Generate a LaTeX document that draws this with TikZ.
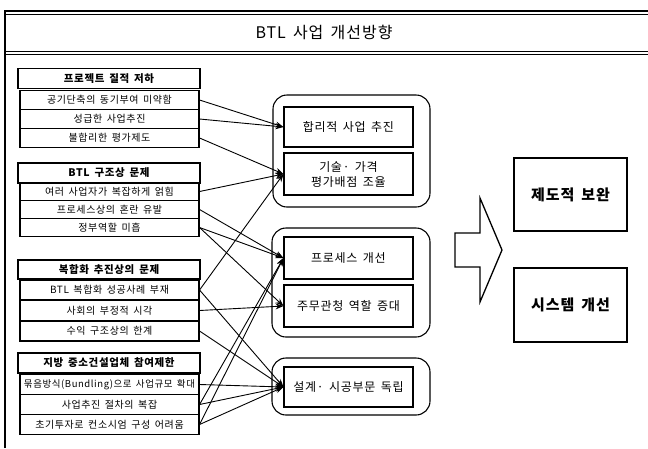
\documentclass[tikz,border=0pt]{standalone}
\usepackage{fontspec}
\setmainfont{Noto Sans CJK KR}[LetterSpace=6,WordSpace=1.6]
\usetikzlibrary{arrows.meta}
\begin{document}
\begin{tikzpicture}[x=1pt,y=-1pt,
 box/.style={draw, line width=1.1pt, inner sep=0pt, align=center},
 hdr/.style={box, minimum width=182pt, minimum height=20pt, font=\fontsize{10.5}{12}\selectfont\bfseries},
 itm/.style={box, minimum width=179pt, minimum height=19pt, font=\fontsize{10}{11}\selectfont},
 midbox/.style={box, minimum width=129pt, minimum height=41pt, font=\fontsize{12}{15}\selectfont},
 grp/.style={draw, line width=1.1pt, rounded corners=14pt, inner sep=0pt},
 res/.style={box, minimum width=113pt, minimum height=73pt, font=\fontsize{15}{17}\selectfont\bfseries},
 con/.style={line width=0.9pt, -{Stealth[length=8pt,width=6pt]}}
]
\useasboundingbox (0,0) rectangle (648,448);
% frame
\draw[line width=1.2pt] (5,448) -- (5,11) -- (648,11);
\draw[line width=0.6pt] (5,14) -- (648,14);
\draw[line width=1pt] (5,51) -- (648,51);
\draw[line width=0.6pt] (5,54) -- (648,54);
\node[font=\fontsize{16}{18}\selectfont] (title) at (324,32) {BTL 사업 개선방향};
% group 1
\node[hdr] (h1) at (109,78.5) {프로젝트 질적 저하};
\node[itm] (a1) at (109.5,100) {공기단축의 동기부여 미약함};
\node[itm] (a2) at (109.5,119) {성급한 사업추진};
\node[itm] (a3) at (109.5,138) {불합리한 평가제도};
% group 2
\node[hdr] (h2) at (109,173) {BTL 구조상 문제};
\node[itm, minimum height=18pt] (b1) at (109.5,191.5) {여러 사업자가 복잡하게 얽힘};
\node[itm, minimum height=18pt] (b2) at (109.5,209.5) {프로세스상의 혼란 유발};
\node[itm, minimum height=18pt] (b3) at (109.5,227.5) {정부역할 미흡};
% group 3
\node[hdr, minimum height=19pt] (h3) at (109,269.5) {복합화 추진상의 문제};
\node[itm, minimum height=20pt] (c1) at (109.5,290) {BTL 복합화 성공사례 부재};
\node[itm, minimum height=20pt] (c2) at (109.5,310.5) {사회의 부정적 시각};
\node[itm, minimum height=20pt] (c3) at (109.5,331) {수익 구조상의 한계};
% group 4
\node[hdr] (h4) at (109,363) {지방 중소건설업체 참여제한};
\node[itm, minimum height=20pt, font=\fontsize{9.5}{11}\selectfont] (d1) at (109.5,384.5) {묶음방식(Bundling)으로 사업규모 확대};
\node[itm, minimum height=20pt] (d2) at (109.5,404.5) {사업추진 절차의 복잡};
\node[itm, minimum height=20pt] (d3) at (109.5,424.5) {초기투자로 컨소시엄 구성 어려움};
% middle groups
\node[grp, minimum width=157pt, minimum height=112pt] (gA) at (351.5,151) {};
\node[grp, minimum width=158pt, minimum height=109pt] (gB) at (351,282.5) {};
\node[grp, minimum width=158pt, minimum height=57pt] (gC) at (351,386.5) {};
\node[midbox, minimum height=40pt] (m1) at (348.5,127) {합리적 사업 추진};
\node[midbox, minimum height=42pt] (m2) at (348.5,174) {기술· 가격\\평가배점 조율};
\node[midbox, minimum height=42pt] (m3) at (348.5,258) {프로세스 개선};
\node[midbox, minimum height=42pt] (m4) at (348.5,306) {주무관청 역할 증대};
\node[midbox, minimum height=40pt] (m5) at (348.5,387) {설계· 시공부문 독립};
% big arrow
\draw[line width=1.3pt, line join=miter] (455,233) -- (480,233) -- (480,198) -- (502,250) -- (480,302) -- (480,267) -- (455,267) -- cycle;
% results
\node[res] (r1) at (570.5,194.5) {제도적 보완};
\node[res, minimum height=74pt] (r2) at (570.5,305) {시스템 개선};
% connectors
\draw[con] (a1.east) -- (m1.west);
\draw[con] (a2.east) -- (m1.west);
\draw[con] (a3.east) -- (m2.west);
\draw[con] (b1.east) -- (m2.west);
\draw[con] (b2.east) -- (m3.west);
\draw[con] (b3.east) -- (m3.west);
\draw[con] (b3.east) -- (m4.west);
\draw[con] (c1.east) -- (m2.west);
\draw[con] (c1.east) -- (m5.west);
\draw[con] (c2.east) -- (m4.west);
\draw[con] (c3.east) -- (m5.west);
\draw[con] (d1.east) -- (m5.west);
\draw[con] (d2.east) -- (m5.west);
\draw[con] (d2.east) -- (m3.west);
\draw[con] (d3.east) -- (m5.west);
\draw[con] (d3.east) -- (m3.west);
\end{tikzpicture}
\end{document}
